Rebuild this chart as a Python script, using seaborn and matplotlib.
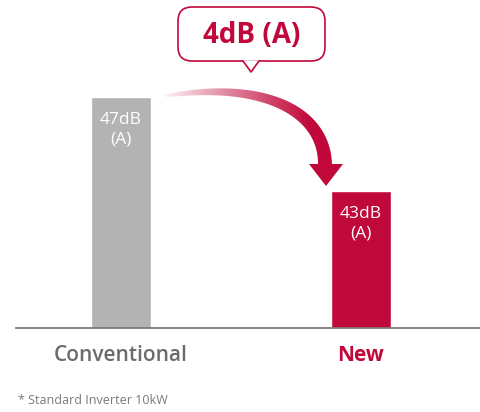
import numpy as np
import pandas as pd
import matplotlib
matplotlib.use("Agg")
import matplotlib.pyplot as plt
import seaborn as sns
from matplotlib.patches import FancyBboxPatch, Polygon

categories = ["Conventional", "New"]
values = [47, 43]
bar_labels = ["47dB\n(A)", "43dB\n(A)"]
diff_label = "4dB (A)"
footnote = "* Standard Inverter 10kW"

GRAY = "#B3B3B3"
RED = "#C1083A"
TXT_GRAY = "#6B6B6B"

sns.set_style("white")
plt.rcParams["font.family"] = ["Open Sans", "DejaVu Sans"]

W, H = 480, 412
fig = plt.figure(figsize=(W / 100, H / 100), dpi=100)
ax = fig.add_axes([16 / W, (H - 328) / H, 464 / W, 328 / H])

df = pd.DataFrame({"cat": categories, "val": values})
sns.barplot(data=df, x="cat", y="val", hue="cat", palette=[GRAY, RED],
            width=0.25, legend=False, ax=ax, saturation=1)

ax.set_xlim(-0.4375, 1.496)
ax.set_ylim(37.17, 51.13)
ax.set_xlabel("")
ax.set_ylabel("")
ax.set_yticks([])
for s in ["top", "right", "left"]:
    ax.spines[s].set_visible(False)
ax.spines["bottom"].set_color("#7A7A7A")
ax.spines["bottom"].set_linewidth(1.3)
ax.tick_params(axis="x", length=0, pad=12)
ax.set_xticks([0, 1])
ax.set_xticklabels(categories, fontsize=15)
tl = ax.get_xticklabels()
tl[0].set_color(TXT_GRAY); tl[0].set_fontweight("semibold")
tl[1].set_color(RED); tl[1].set_fontweight("bold")

for i, (v, lab) in enumerate(zip(values, bar_labels)):
    ax.text(i, v - 0.65, lab, ha="center", va="top", color="white",
            fontsize=12.5, linespacing=1.3)

# overlay axes in pixel coordinates (top-left origin) for annotations
ov = fig.add_axes([0, 0, 1, 1], zorder=3)
ov.set_xlim(0, W)
ov.set_ylim(H, 0)
ov.axis("off")
ov.patch.set_visible(False)

# callout bubble
box = FancyBboxPatch((178, 7), 147, 54,
                     boxstyle="round,pad=0,rounding_size=14",
                     facecolor="white", edgecolor=RED, linewidth=1.2, zorder=5)
ov.add_patch(box)
ov.add_patch(Polygon([(243, 60.3), (259, 60.3), (251, 72)], closed=True,
                     facecolor="white", edgecolor="none", zorder=6))
ov.plot([243, 251, 259], [61, 72, 61], color=RED, linewidth=1.2, zorder=7)
ov.text(251.5, 35, diff_label, ha="center", va="center", color=RED,
        fontsize=20, fontweight="bold", zorder=8)

# gradient curved arrow
P = np.array([[165, 96], [265, 80], [325, 112], [325, 165]], dtype=float)
t = np.linspace(0, 1, 200)
B = ((1 - t) ** 3)[:, None] * P[0] + (3 * (1 - t) ** 2 * t)[:, None] * P[1] \
    + (3 * (1 - t) * t ** 2)[:, None] * P[2] + (t ** 3)[:, None] * P[3]
d = np.gradient(B, axis=0)
d /= np.linalg.norm(d, axis=1)[:, None]
nrm = np.stack([-d[:, 1], d[:, 0]], axis=1)
wid = 0.8 + 6.2 * np.sqrt(t)
top = B + nrm * wid[:, None]
bot = B - nrm * wid[:, None]
outline = np.vstack([top, bot[::-1]])
shaft = Polygon(outline, closed=True, facecolor="none", edgecolor="none")
ov.add_patch(shaft)

rgb = matplotlib.colors.to_rgb(RED)
xs = np.linspace(160, 345, 400)
alpha = np.clip((xs - 160) / 150, 0, 1) ** 0.9
img = np.zeros((1, len(xs), 4))
img[0, :, :3] = rgb
img[0, :, 3] = alpha
im = ov.imshow(img, extent=[160, 345, 190, 75], aspect="auto",
               interpolation="bilinear", zorder=4)
im.set_clip_path(shaft)
ov.set_xlim(0, W)
ov.set_ylim(H, 0)

ov.add_patch(Polygon([(309, 164), (343, 164), (326, 186)], closed=True,
                     facecolor=RED, edgecolor="none", zorder=4))

ov.text(18, 400, footnote, ha="left", va="center", color="#7A7A7A",
        fontsize=9)

fig.savefig("out.png", dpi=100)
